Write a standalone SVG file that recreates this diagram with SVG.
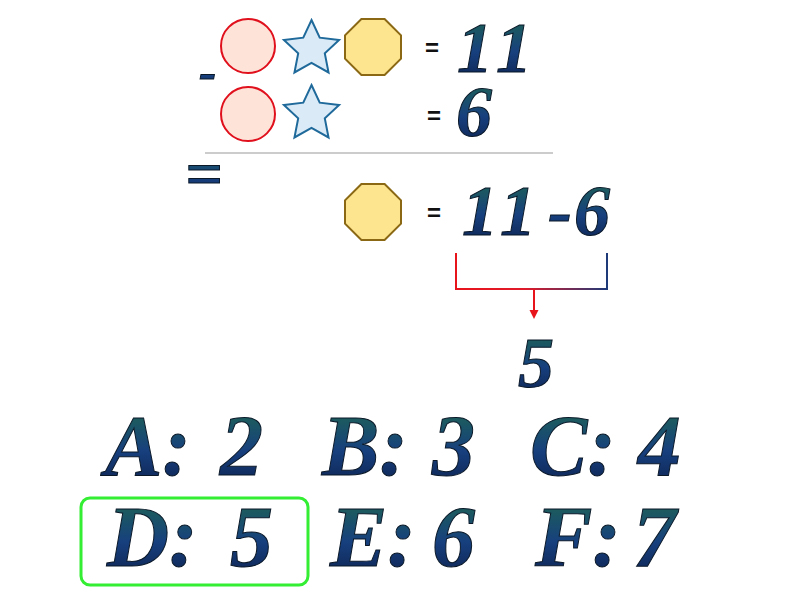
<svg xmlns="http://www.w3.org/2000/svg" width="800" height="600" viewBox="0 0 800 600">
<defs>
<linearGradient id="tg" x1="0" y1="0" x2="0" y2="1">
<stop offset="0" stop-color="#1f6b4a"/>
<stop offset="0.55" stop-color="#17407e"/>
<stop offset="1" stop-color="#0c1d48"/>
</linearGradient>
<linearGradient id="bg" gradientUnits="userSpaceOnUse" x1="456" y1="0" x2="607" y2="0">
<stop offset="0" stop-color="#e8141c"/>
<stop offset="0.45" stop-color="#e01a2a"/>
<stop offset="1" stop-color="#1e3a78"/>
</linearGradient>
<path id="star" d="M0,-29 L8.23,-11.33 L27.58,-8.96 L13.31,4.33 L17.05,23.46 L0,14 L-17.05,23.46 L-13.31,4.33 L-27.58,-8.96 L-8.23,-11.33 Z"/>
<polygon id="oct" points="-11.6,-28 11.6,-28 28,-11.6 28,11.6 11.6,28 -11.6,28 -28,11.6 -28,-11.6"/>
<marker id="ah" markerWidth="10" markerHeight="10" refX="1" refY="4.5" orient="auto" markerUnits="userSpaceOnUse" overflow="visible">
<path d="M0,0 L9,4.5 L0,9 Z" fill="#e8141c"/>
</marker>
</defs>
<style>
.circ{fill:#fde3d8;stroke:#e0101c;stroke-width:2}
.star{fill:#daeaf7;stroke:#1f6a9a;stroke-width:2;stroke-linejoin:miter}
.oct{fill:#fde48f;stroke:#8b6914;stroke-width:2}
.eq{font-family:"Liberation Sans",Arial,sans-serif;font-weight:bold;font-size:24px;fill:#111}
.cal{font-family:"Liberation Serif","Times New Roman",serif;font-style:italic;font-weight:bold;fill:url(#tg);stroke:#0a1828;stroke-width:1}
.num{font-size:72px}
.ans{font-size:86px}
</style>
<g id="row1">
<circle class="circ" cx="248" cy="46" r="27"/>
<use href="#star" class="star" x="311.5" y="49"/>
<use href="#oct" class="oct" x="373" y="47"/>
<text class="eq" x="425" y="56">=</text>
<text class="cal num" x="457" y="72" letter-spacing="7">11</text>
</g>
<g id="row2">
<text class="cal" font-size="52" x="199" y="89">-</text>
<circle class="circ" cx="248" cy="114" r="27"/>
<use href="#star" class="star" x="311.5" y="114"/>
<text class="eq" x="427" y="124">=</text>
<text class="cal num" x="456" y="136">6</text>
</g>
<line x1="205" y1="153" x2="553" y2="153" stroke="#bbbbbb" stroke-width="1.5"/>
<g id="row3">
<text class="cal" font-size="66" x="185" y="196">=</text>
<use href="#oct" class="oct" x="373" y="212"/>
<text class="eq" x="427" y="221">=</text>
<text class="cal num" x="462" y="235" letter-spacing="6">11<tspan x="548" letter-spacing="0">-</tspan><tspan x="574" letter-spacing="0">6</tspan></text>
</g>
<g id="connectors">
<path d="M456,253 V289 H607 V253" fill="none" stroke="url(#bg)" stroke-width="2"/>
<line x1="534" y1="289" x2="534" y2="311" stroke="#e8141c" stroke-width="2" marker-end="url(#ah)"/>
</g>
<g id="result">
<text class="cal num" x="518" y="387">5</text>
</g>
<g id="answers">
<text class="cal ans" x="105" y="475">A:<tspan x="220">2</tspan></text>
<text class="cal ans" x="322" y="475">B:<tspan x="432">3</tspan></text>
<text class="cal ans" x="530" y="475">C:<tspan x="638">4</tspan></text>
<rect x="81" y="498" width="227" height="87" rx="9" fill="none" stroke="#33ee33" stroke-width="3"/>
<text class="cal ans" x="107" y="566">D:<tspan x="230">5</tspan></text>
<text class="cal ans" x="330" y="566">E:<tspan x="432">6</tspan></text>
<text class="cal ans" x="535" y="566">F:<tspan x="633">7</tspan></text>
</g>
</svg>
